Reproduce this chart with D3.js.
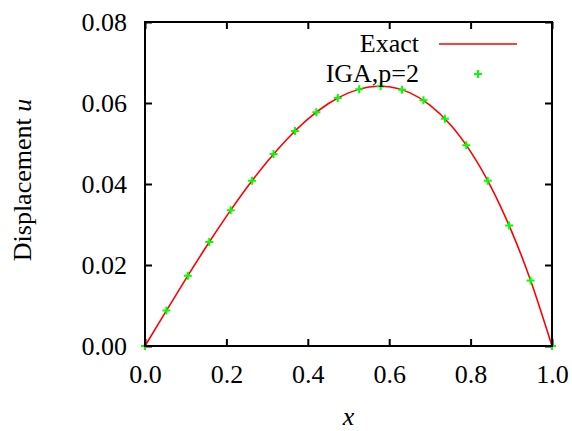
<!DOCTYPE html>
<html>
<head>
<meta charset="utf-8">
<script src="https://cdn.jsdelivr.net/npm/d3@7"></script>
<style>
  html, body { margin: 0; padding: 0; background: #fff; }
  svg { display: block; }
</style>
</head>
<body>
<svg id="chart" width="572" height="431"></svg>
<script>
// Exact solution u(x), sampled every 0.05
const exactX = [0, 0.05, 0.1, 0.15, 0.2, 0.25, 0.3, 0.35, 0.4, 0.45, 0.5,
                0.55, 0.6, 0.65, 0.7, 0.75, 0.8, 0.85, 0.9, 0.95, 1.0];
const exactU = [0, 0.0083125, 0.0165, 0.0244375, 0.032, 0.0390625, 0.0455,
                0.0511875, 0.056, 0.0598125, 0.0625, 0.0639375, 0.064,
                0.0625625, 0.0595, 0.0546875, 0.048, 0.0393125, 0.0285,
                0.0154375, 0];

// IGA (p=2) nodal values on 19 uniform elements
const igaX = [0, 0.052632, 0.105263, 0.157895, 0.210526, 0.263158, 0.315789,
              0.368421, 0.421053, 0.473684, 0.526316, 0.578947, 0.631579,
              0.684211, 0.736842, 0.789474, 0.842105, 0.894737, 0.947368, 1.0];
const igaU = [0, 0.008748, 0.017350, 0.025660, 0.033533, 0.040822, 0.047383,
              0.053069, 0.057735, 0.061234, 0.063420, 0.064149, 0.063275,
              0.060650, 0.056131, 0.049570, 0.040822, 0.029742, 0.016183, 0];

const xTicks = [0, 0.2, 0.4, 0.6, 0.8, 1.0];
const yTicks = [0, 0.02, 0.04, 0.06, 0.08];
const seriesNames = ["Exact", "IGA,p=2"];

const FONT = "'Liberation Serif', 'DejaVu Serif', serif";
const fontSize = 26;

const svg = d3.select("#chart");
const plotL = 145, plotR = 552, plotT = 22, plotB = 346;

const x = d3.scaleLinear().domain([0, 1]).range([plotL, plotR]);
const y = d3.scaleLinear().domain([0, 0.08]).range([plotB, plotT]);

// ticks (inward, on all four sides)
const tickLen = 7;
const gx = svg.append("g").attr("transform", `translate(0,${plotB})`)
  .call(d3.axisBottom(x).tickValues(xTicks).tickFormat(d3.format(".1f"))
        .tickSizeInner(-tickLen).tickSizeOuter(0).tickPadding(19));
const gxTop = svg.append("g").attr("transform", `translate(0,${plotT})`)
  .call(d3.axisTop(x).tickValues(xTicks).tickFormat("")
        .tickSizeInner(-tickLen).tickSizeOuter(0));
const gy = svg.append("g").attr("transform", `translate(${plotL},0)`)
  .call(d3.axisLeft(y).tickValues(yTicks).tickFormat(d3.format(".2f"))
        .tickSizeInner(-tickLen).tickSizeOuter(0).tickPadding(18));
const gyR = svg.append("g").attr("transform", `translate(${plotR},0)`)
  .call(d3.axisRight(y).tickValues(yTicks).tickFormat("")
        .tickSizeInner(-tickLen).tickSizeOuter(0));

[gx, gxTop, gy, gyR].forEach(g => {
  g.select(".domain").remove();
  g.attr("font-family", null).attr("font-size", null);
  g.selectAll(".tick line").attr("stroke", "#000").attr("stroke-width", 2);
  g.selectAll("text")
    .style("font-family", FONT).style("font-size", fontSize + "px")
    .attr("fill", "#000");
});

// Exact curve
const line = d3.line().x(d => x(d[0])).y(d => y(d[1])).curve(d3.curveNatural);
svg.append("path")
  .datum(exactX.map((v, i) => [v, exactU[i]]))
  .attr("d", line)
  .attr("fill", "none").attr("stroke", "#ff0000").attr("stroke-width", 1.6);

// IGA points as "+" markers
const plus = (cx, cy, s) => `M${cx - s},${cy}H${cx + s}M${cx},${cy - s}V${cy + s}`;
svg.append("g").selectAll("path")
  .data(igaX.map((v, i) => [v, igaU[i]]))
  .join("path")
  .attr("d", d => plus(x(d[0]), y(d[1]), 4))
  .attr("stroke", "#00ff00").attr("stroke-width", 2).attr("fill", "none");

// frame
svg.append("rect")
  .attr("x", plotL).attr("y", plotT)
  .attr("width", plotR - plotL).attr("height", plotB - plotT)
  .attr("fill", "none").attr("stroke", "#000").attr("stroke-width", 2);

const label = (sel) => sel.style("font-family", FONT)
  .style("font-size", fontSize + "px").attr("fill", "#000");

// legend
const legX = 419;
svg.append("text").attr("x", legX).attr("y", 52).attr("text-anchor", "end")
  .call(label).text(seriesNames[0]);
svg.append("line").attr("x1", 439).attr("x2", 517).attr("y1", 44).attr("y2", 44)
  .attr("stroke", "#ff0000").attr("stroke-width", 1.6);
svg.append("text").attr("x", legX).attr("y", 82).attr("text-anchor", "end")
  .call(label).text(seriesNames[1]);
svg.append("path").attr("d", plus(478, 74, 4))
  .attr("stroke", "#00ff00").attr("stroke-width", 2).attr("fill", "none");

// axis titles
svg.append("text").attr("x", (plotL + plotR) / 2).attr("y", 425)
  .attr("text-anchor", "middle").call(label)
  .style("font-style", "italic").text("x");
const yl = svg.append("text")
  .attr("transform", `translate(31,180) rotate(-90)`)
  .attr("text-anchor", "middle").call(label);
yl.append("tspan").text("Displacement ");
yl.append("tspan").style("font-style", "italic").text("u");
</script>
</body>
</html>
